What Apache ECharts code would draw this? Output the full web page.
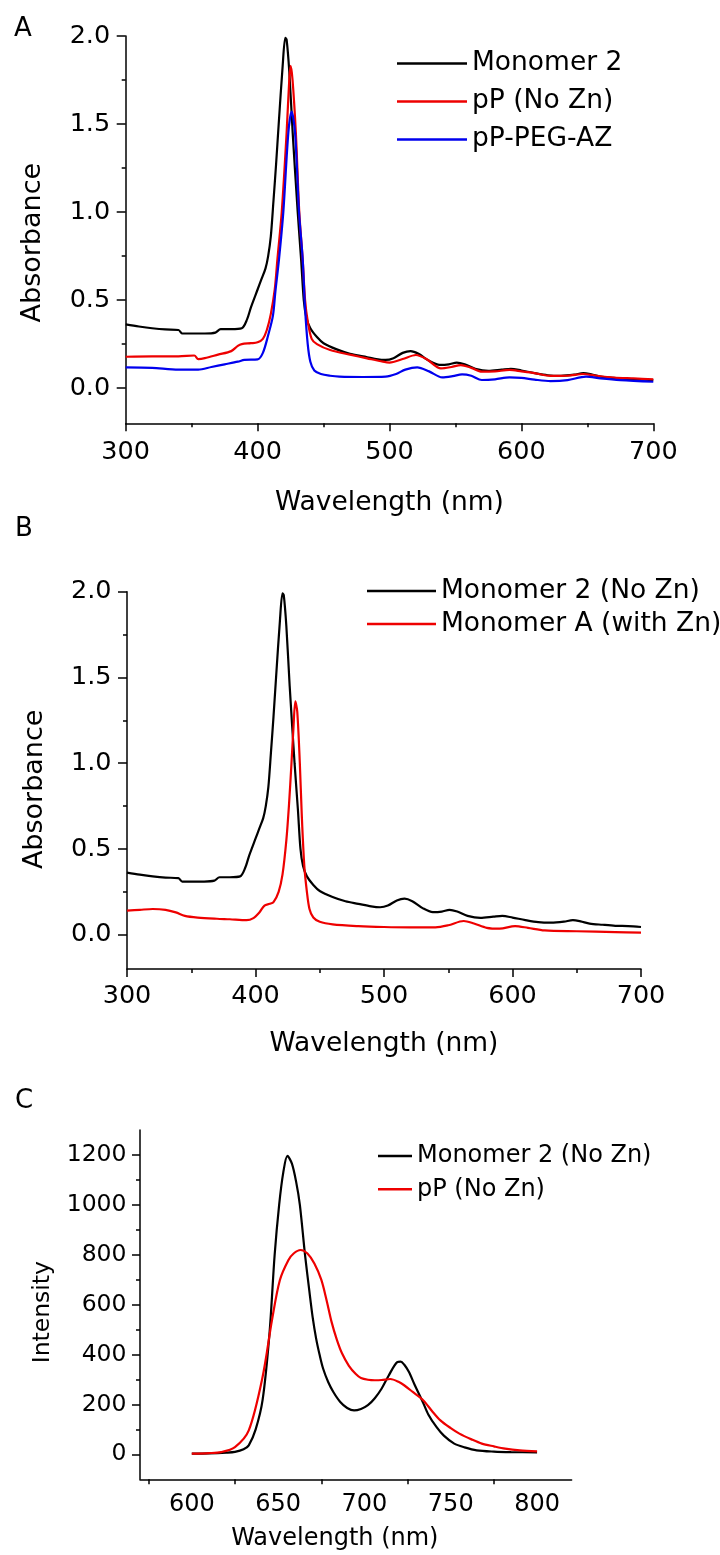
<!DOCTYPE html>
<html><head><meta charset="utf-8">
<script src="https://cdn.jsdelivr.net/npm/echarts@6/dist/echarts.min.js"></script>
<style>html,body{margin:0;padding:0;background:#fff}#c{width:720px;height:1555px}</style>
</head><body><div id="c"></div><script>
// ---- Panel A / B : absorbance spectra ----
const monomer2X = [300,310,320,330,340,343,350,360,368,372,380,388,392,395,400,403,406,408,410,412,414,416,419,421,422,424,426.6,430.4,433,435,437,440,445,450,460,470,480,490,497,503,510,516,522,530,538,545,551,557,565,575,585,592,600,610,620,630,640,647,653,660,670,680,690,700];
const monomer2Y = [0.362,0.35,0.34,0.333,0.33,0.31,0.31,0.31,0.315,0.335,0.335,0.34,0.39,0.46,0.56,0.62,0.68,0.75,0.86,1.06,1.27,1.5,1.83,1.99,1.98,1.8,1.45,1.0,0.73,0.5,0.4,0.34,0.29,0.255,0.22,0.195,0.18,0.165,0.16,0.17,0.2,0.21,0.195,0.155,0.132,0.135,0.145,0.135,0.11,0.098,0.105,0.11,0.1,0.085,0.073,0.07,0.076,0.085,0.078,0.065,0.058,0.052,0.05,0.045];

const ppX = [300,320,340,352,355,360,370,380,385,388,395,400,404,407,410,413,415,418.3,422,424,425,426.5,429,431.6,434.2,436,438,441,445,455,470,483,495,500,510,520,528,539,547,554,562,570,580,591,600,610,622,635,647,655,670,685,700];
const ppY = [0.178,0.18,0.18,0.185,0.165,0.17,0.19,0.21,0.24,0.25,0.255,0.26,0.28,0.33,0.42,0.56,0.73,1.0,1.45,1.75,1.83,1.75,1.45,1.0,0.73,0.5,0.38,0.28,0.25,0.216,0.19,0.169,0.15,0.145,0.165,0.188,0.165,0.112,0.12,0.131,0.115,0.093,0.095,0.103,0.095,0.085,0.069,0.07,0.08,0.072,0.06,0.055,0.05];

const pegX = [300,320,340,355,365,375,385,390,400,404,408,411.6,413.5,416.2,419.5,423.3,425.8,428.4,431.4,434.2,436,438,440,443,448,455,462,480,497,505,512,521,530,540,548,555,562,570,580,591,600,610,622,635,649,660,675,700];
const pegY = [0.118,0.115,0.105,0.105,0.12,0.135,0.15,0.16,0.163,0.2,0.3,0.41,0.55,0.73,1.0,1.45,1.57,1.45,1.0,0.73,0.45,0.25,0.15,0.1,0.08,0.07,0.065,0.063,0.065,0.08,0.105,0.118,0.095,0.061,0.068,0.078,0.07,0.046,0.05,0.061,0.058,0.048,0.04,0.045,0.065,0.055,0.045,0.036];

const monAX = [300,310,320,330,338,345,355,370,380,393,398,403,407,411,414,418,421,424,426,428,429.5,431,432.5,434.5,436,438,440,442,445,450,460,480,500,520,540,550,562,570,580,590,602,612,625,650,680,700];
const monAY = [0.14,0.145,0.15,0.145,0.13,0.11,0.1,0.093,0.09,0.085,0.095,0.13,0.17,0.18,0.19,0.25,0.35,0.55,0.75,1.0,1.2,1.36,1.3,1.0,0.7,0.4,0.25,0.15,0.1,0.075,0.06,0.05,0.045,0.043,0.043,0.055,0.08,0.065,0.04,0.035,0.05,0.04,0.025,0.02,0.015,0.012];

// ---- Panel C : emission spectra ----
const emM2X = [600,610,620,625,630,633,637,641,645,648,650.6,653,655.4,658,660.5,662.6,665.5,668,670,672,674,676,679,682,686,690,694,698,702,706,710,714,719,721,723,725.8,729,733.8,737,741.7,746,752,758,765,775,785,800];
const emM2Y = [3,4,7,10,20,36,100,217,484,800,1000,1130,1196,1165,1090,1000,805,660,550,465,400,345,290,250,210,186,176,182,197,225,264,315,370,372,360,330,280,210,160,110,75,43,28,16,11,9,8];
const emPPX = [600,610,617,625,633,641,646.5,651,656,659,663,667,671,675,678,681,684,687,691,695,698,702,706,710,715,720,723,728,734,739,744,750,755,762,768,775,781.5,790,800];
const emPPY = [3,5,9,29,96,310,540,698,779,805,819,805,765,700,620,530,460,405,355,322,306,299,297,298,302,290,277,250,217,175,136,105,83,60,43,32,23,16,12];

// ---- tick labels ----
const absTicks = [0, 0.5, 1.0, 1.5, 2.0];
const absMinor = [0.25, 0.75, 1.25, 1.75];
const intTicks = [0, 200, 400, 600, 800, 1000, 1200];
const intMinor = [100, 300, 500, 700, 900, 1100];
const emLabels = [600, 650, 700, 750, 800];
const emTicks = [575, 625, 675, 725, 775];

const FONT = 'DejaVu Sans';
const BLACK = '#000000', RED = '#ee0000', BLUE = '#0000ee';
const zip = (xs, ys) => xs.map((x, i) => [x, ys[i]]);
const axLine = {show: true, onZero: false, lineStyle: {color: '#000', width: 1.5}};

function waveAxis(grid, margin, nameGap) {
  return {
    gridIndex: grid, type: 'value', min: 300, max: 700, interval: 100,
    axisLine: axLine,
    axisTick: {show: true, length: 8, lineStyle: {color: '#000', width: 1.5}},
    minorTick: {show: true, splitNumber: 2, length: 4, lineStyle: {color: '#000', width: 1.5}},
    axisLabel: {fontSize: 25.5, fontFamily: FONT, color: '#000', margin: margin},
    splitLine: {show: false}, minorSplitLine: {show: false},
    name: 'Wavelength (nm)', nameLocation: 'middle', nameGap: nameGap,
    nameTextStyle: {fontSize: 26.5, fontFamily: FONT, color: '#000'}
  };
}
function absAxis(grid, nameGap, pad) {
  return {
    gridIndex: grid, type: 'value', min: -0.2, max: 2.0, position: 'left',
    axisLine: axLine,
    axisTick: {show: true, customValues: absTicks, length: 9, lineStyle: {color: '#000', width: 1.5}},
    axisLabel: {customValues: absTicks, formatter: v => v.toFixed(1), fontSize: 25.5, fontFamily: FONT, color: '#000', margin: 15.5},
    splitLine: {show: false},
    name: 'Absorbance', nameLocation: 'middle', nameGap: nameGap,
    nameTextStyle: {fontSize: 27, fontFamily: FONT, color: '#000', padding: pad}
  };
}
function minorAxis(grid, min, max, vals) {
  return {
    gridIndex: grid, type: 'value', min: min, max: max, position: 'left', offset: 0,
    axisLine: {show: false, onZero: false},
    axisTick: {show: true, customValues: vals, length: 4, lineStyle: {color: '#000', width: 1.5}},
    axisLabel: {show: false}, splitLine: {show: false}
  };
}
function line(name, x, y, xi, yi, color) {
  return {type: 'line', name: name, xAxisIndex: xi, yAxisIndex: yi, data: zip(x, y),
    symbol: 'none', showSymbol: false, smooth: 0.3, smoothConstraint: true,
    lineStyle: {color: color, width: 2.2}, itemStyle: {color: color}, emphasis: {disabled: true}};
}
const legendText = size => ({fontSize: size, fontFamily: FONT, color: '#000'});
const letter = (t, left, top) => ({text: t, left: left, top: top, padding: 0,
  textStyle: {fontSize: 26, fontWeight: 'normal', fontFamily: FONT, color: '#000'}});

const option = {
  animation: false,
  backgroundColor: '#fff',
  title: [letter('A', 14, 16), letter('B', 15, 516), letter('C', 15, 1088)],
  grid: [
    {left: 125.7, top: 36, width: 527.6, height: 387.3},
    {left: 127, top: 591.7, width: 514, height: 377.3},
    {left: 140, top: 1130, width: 431.6, height: 349.3}
  ],
  xAxis: [
    waveAxis(0, 16, 66),
    waveAxis(1, 14, 62),
    {
      gridIndex: 2, type: 'value', min: 570, max: 820,
      axisLine: axLine,
      axisTick: {show: true, customValues: emTicks, length: 5, lineStyle: {color: '#000', width: 1.5}},
      axisLabel: {customValues: emLabels, fontSize: 24, fontFamily: FONT, color: '#000', margin: 13},
      splitLine: {show: false},
      name: 'Wavelength (nm)', nameLocation: 'middle', nameGap: 47,
      nameTextStyle: {fontSize: 24, fontFamily: FONT, color: '#000', padding: [0, 42, 0, 0]}
    }
  ],
  yAxis: [
    absAxis(0, 79, [0, 26, 0, 0]),
    minorAxis(0, -0.2, 2.0, absMinor),
    absAxis(1, 78.5, [0, 18, 0, 0]),
    minorAxis(1, -0.2, 2.0, absMinor),
    {
      gridIndex: 2, type: 'value', min: -100, max: 1300, position: 'left',
      axisLine: axLine,
      axisTick: {show: true, customValues: intTicks, length: 8, lineStyle: {color: '#000', width: 1.5}},
      axisLabel: {customValues: intTicks, formatter: v => String(v), fontSize: 23.5, fontFamily: FONT, color: '#000', margin: 13.5},
      splitLine: {show: false},
      name: 'Intensity', nameLocation: 'middle', nameGap: 85,
      nameTextStyle: {fontSize: 23.5, fontFamily: FONT, color: '#000', padding: [0, 15, 0, 0]}
    },
    minorAxis(2, -100, 1300, intMinor)
  ],
  legend: [
    {data: ['Monomer 2', 'pP (No Zn)', 'pP-PEG-AZ'], orient: 'vertical', left: 397, top: 50,
     icon: 'rect', itemWidth: 70, itemHeight: 2.5, itemGap: 11, padding: 0, selectedMode: false, textStyle: legendText(26.5)},
    {data: ['Monomer 2 (No Zn)', 'Monomer A (with Zn)'], orient: 'vertical', left: 367, top: 577.5,
     icon: 'rect', itemWidth: 69, itemHeight: 2.5, itemGap: 6, padding: 0, selectedMode: false, textStyle: legendText(26.5)},
    {data: ['Monomer 2 (No Zn) ', 'pP (No Zn) '], orient: 'vertical', left: 378, top: 1144,
     icon: 'rect', itemWidth: 34, itemHeight: 2.5, itemGap: 9.3, padding: 0, selectedMode: false, textStyle: legendText(24)}
  ],
  series: [
    line('Monomer 2', monomer2X, monomer2Y, 0, 0, BLACK),
    line('pP (No Zn)', ppX, ppY, 0, 0, RED),
    line('pP-PEG-AZ', pegX, pegY, 0, 0, BLUE),
    line('Monomer 2 (No Zn)', monomer2X, monomer2Y, 1, 2, BLACK),
    line('Monomer A (with Zn)', monAX, monAY, 1, 2, RED),
    line('Monomer 2 (No Zn) ', emM2X, emM2Y, 2, 4, BLACK),
    line('pP (No Zn) ', emPPX, emPPY, 2, 4, RED)
  ]
};
const chart = echarts.init(document.getElementById('c'), null, {renderer: 'canvas'});
chart.setOption(option);
</script></body></html>
